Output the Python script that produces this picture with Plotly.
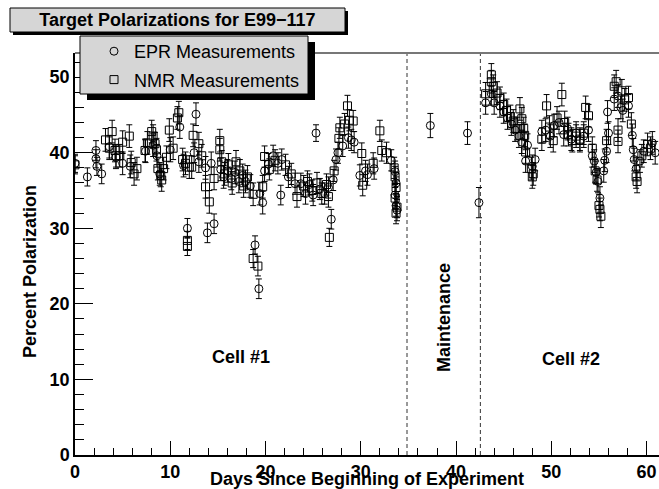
import plotly.graph_objects as go

# ---------------- data ----------------
EPR_DAY = [0.0, 1.3, 2.2, 2.2, 2.3, 2.8, 3.6, 4.3, 5.0, 5.8, 7.4, 8.2, 8.6, 8.9, 10.0, 11.0,
           11.4, 11.8, 12.5, 12.7, 13.0, 13.7, 13.9, 14.3, 14.6, 15.3, 15.6, 16.0, 16.4, 16.8,
           17.2, 17.6, 17.9, 18.4, 18.9, 19.3, 19.4, 19.7, 19.9, 20.3, 20.8, 21.3, 21.6, 21.7,
           22.4, 23.1, 23.7, 24.2, 24.6, 25.0, 25.3, 25.7, 26.2, 26.6, 26.9, 27.1, 27.4, 27.6,
           28.1, 28.7, 29.0, 29.3, 29.9, 30.5, 30.7, 31.4, 33.2, 33.6, 33.7, 33.6, 33.7, 33.8,
           37.3, 41.2, 42.4,
           43.1, 43.7, 44.0, 44.6, 45.0, 45.4, 45.8, 46.2, 46.6, 46.9, 47.3, 47.5, 48.0, 48.3,
           49.0, 49.4, 49.9, 50.3, 50.8, 51.3, 51.7, 52.1, 52.6, 53.0, 53.4, 53.9, 54.3, 54.5,
           54.7, 54.9, 55.1, 55.5, 55.6, 55.8, 55.9, 56.0, 56.6, 57.0, 57.3, 57.5, 58.1, 58.5,
           58.6, 58.7, 58.9, 59.3, 59.7, 60.6, 60.9]
EPR_POL = [38.6, 36.8, 40.3, 39.2, 38.2, 37.2, 40.8, 39.4, 38.6, 38.2, 40.2, 41.0, 39.6, 37.2, 40.4, 43.4,
           38.3, 30.0, 40.0, 45.1, 38.8, 38.0, 29.4, 38.6, 30.6, 37.8, 36.8, 37.6, 36.6, 37.4,
           36.2, 37.0, 36.2, 35.6, 27.8, 22.0, 34.6, 33.4, 37.6, 38.5, 39.6, 38.6, 34.4, 39.1,
           36.8, 35.9, 35.9, 34.6, 35.8, 34.4, 42.6, 35.2, 34.6, 35.4, 31.2, 36.4, 39.1, 40.0,
           40.9, 42.0, 41.7, 41.4, 37.0, 37.6, 37.1, 37.9, 39.0, 37.5, 36.0, 34.4, 33.0, 32.4,
           43.6, 42.6, 33.4,
           46.6, 47.8, 46.6, 46.2, 45.4, 44.6, 43.8, 43.0, 42.2, 41.4, 38.9, 41.0, 38.2, 39.1,
           42.8, 43.0, 42.2, 43.6, 44.0, 42.4, 43.2, 41.8, 42.6, 41.6, 42.2, 43.0, 39.6, 38.9,
           37.4, 36.2, 34.0, 37.6, 39.0, 40.2, 45.4, 42.6, 47.1, 47.5, 46.0, 45.6, 46.2, 42.3,
           40.4, 39.1, 37.9, 38.9, 40.2, 41.3, 40.0]
EPR_ERR = [1.2, 1.2, 1.3, 1.2, 1.2, 1.3, 1.5, 1.5, 1.5, 1.5, 1.5, 1.5, 1.5, 1.5, 1.6, 1.5,
           1.5, 1.3, 1.3, 1.5, 1.4, 1.5, 1.3, 1.5, 1.3, 1.5, 1.5, 1.5, 1.5, 1.5,
           1.5, 1.5, 1.5, 1.5, 1.2, 1.3, 1.5, 1.5, 1.4, 1.4, 1.4, 1.4, 1.3, 1.4,
           1.4, 1.4, 1.4, 1.4, 1.4, 1.4, 1.1, 1.4, 1.4, 1.4, 1.3, 1.4, 1.4, 1.4,
           1.4, 1.4, 1.4, 1.4, 1.4, 1.4, 1.4, 1.4, 1.4, 1.4, 1.4, 1.4, 1.4, 1.4,
           1.6, 1.5, 2.0,
           1.5, 1.5, 1.5, 1.5, 1.5, 1.5, 1.5, 1.5, 1.5, 1.5, 1.5, 1.5, 1.5, 1.5,
           1.5, 1.5, 1.5, 1.5, 1.5, 1.5, 1.5, 1.5, 1.5, 1.5, 1.5, 1.5, 1.5, 1.5,
           1.5, 1.5, 1.5, 1.5, 1.5, 1.5, 1.5, 1.5, 1.5, 1.5, 1.5, 1.5, 1.5, 1.5,
           1.5, 1.5, 1.5, 1.5, 1.5, 1.5, 1.5]

NMR_DAY = [0.0, 3.2, 3.6, 3.9, 4.2, 4.3, 4.7, 5.0, 5.7, 5.9, 6.2, 6.5, 7.35, 7.6, 8.05, 8.2,
           8.4, 8.55, 8.7, 9.0, 9.1, 9.3, 9.6, 9.9, 10.3, 10.75, 10.9, 11.3, 11.6, 12.0, 11.8, 11.8,
           12.25, 12.4, 13.0, 13.3, 13.7, 14.1, 14.6, 15.2, 15.2, 15.4, 15.7, 16.1, 16.5, 16.9,
           17.3, 17.7, 18.1, 18.7, 18.7, 19.2, 19.7, 19.9, 20.4, 21.0, 22.1, 22.7, 23.3, 24.0,
           24.4, 24.9, 25.4, 25.9, 26.4, 26.6, 26.7, 27.2, 27.7, 27.8, 28.3, 28.6, 28.8, 29.2,
           30.1, 30.2, 31.3, 32.0, 32.2, 32.7, 33.5, 33.6, 33.7, 33.6, 33.8, 33.7,
           43.1, 43.7, 43.7, 43.9, 44.3, 44.6, 45.0, 45.3, 45.7, 46.0, 46.4, 46.7, 46.9, 47.1,
           47.2, 47.3, 47.9, 48.1, 48.0, 49.0, 49.5, 49.8, 50.2, 50.6, 51.1, 51.4, 51.8, 52.2,
           52.6, 53.0, 53.4, 53.6, 53.9, 54.3, 54.6, 54.8, 55.1, 55.2, 55.0, 55.8, 56.6, 56.8,
           57.0, 57.0, 57.4, 57.7, 58.1, 58.4, 58.9, 59.0, 59.5, 60.1, 60.4]
NMR_POL = [38.4, 41.7, 40.6, 42.8, 40.3, 39.6, 39.6, 41.4, 42.2, 38.7, 37.2, 37.9, 40.3, 41.3, 42.8, 42.2,
           41.2, 40.4, 37.9, 37.0, 36.4, 37.9, 39.4, 43.0, 40.6, 44.6, 45.3, 39.1, 38.6, 38.1, 28.4, 27.6,
           38.1, 42.3, 41.2, 39.6, 35.5, 33.5, 36.6, 41.6, 40.4, 38.8, 37.2, 38.4, 36.0, 38.8,
           37.6, 35.6, 36.8, 34.5, 26.0, 25.0, 35.5, 39.5, 37.8, 39.0, 38.4, 37.2, 34.2, 35.6,
           36.2, 35.0, 36.0, 34.6, 35.8, 34.2, 28.8, 37.6, 41.9, 43.3, 43.8, 46.2, 44.3, 44.2,
           39.9, 35.7, 38.6, 42.9, 40.3, 40.0, 38.0, 36.8, 35.4, 34.0, 32.8, 32.0,
           47.8, 50.3, 49.4, 48.8, 47.9, 47.2, 46.4, 45.6, 44.8, 44.2, 43.2, 45.8, 44.5, 43.2,
           42.3, 40.1, 37.9, 37.2, 36.8, 41.8, 46.2, 43.4, 41.6, 44.6, 47.7, 44.0, 42.4, 41.6,
           42.2, 41.8, 42.6, 46.0, 44.9, 40.6, 37.6, 36.4, 32.5, 31.6, 33.0, 41.6, 48.8, 49.4,
           43.0, 41.5, 48.2, 47.0, 47.3, 43.8, 36.8, 36.2, 39.6, 41.1, 40.6]
NMR_ERR = [1.2, 1.5, 1.5, 1.5, 1.5, 1.5, 1.5, 1.5, 1.5, 1.5, 1.5, 1.5, 1.5, 1.5, 1.5, 1.5,
           1.5, 1.5, 1.5, 1.5, 1.5, 1.5, 1.5, 1.5, 1.5, 1.5, 1.5, 1.5, 1.5, 1.5, 1.2, 1.2,
           1.5, 1.5, 1.5, 1.5, 1.5, 1.5, 1.5, 1.5, 1.5, 1.5, 1.5, 1.5, 1.5, 1.5,
           1.5, 1.5, 1.5, 1.5, 1.2, 1.3, 1.5, 1.4, 1.4, 1.4, 1.4, 1.4, 1.4, 1.4,
           1.4, 1.4, 1.4, 1.4, 1.4, 1.4, 1.2, 1.4, 1.4, 1.4, 1.4, 1.4, 1.4, 1.4,
           1.4, 1.4, 1.4, 1.4, 1.4, 1.4, 1.4, 1.4, 1.4, 1.4, 1.4, 1.4,
           1.5, 1.5, 1.5, 1.5, 1.5, 1.5, 1.5, 1.5, 1.5, 1.5, 1.5, 1.5, 1.5, 1.5,
           1.5, 1.5, 1.5, 1.5, 1.5, 1.5, 1.5, 1.5, 1.5, 1.5, 1.5, 1.5, 1.5, 1.5,
           1.5, 1.5, 1.5, 1.5, 1.5, 1.5, 1.5, 1.5, 1.5, 1.5, 1.5, 1.5, 1.5, 1.5,
           1.5, 1.5, 1.5, 1.5, 1.5, 1.5, 1.5, 1.5, 1.5, 1.5, 1.5]

PERIOD_BOUNDARIES = [34.85, 42.55]
REGION_LABELS = ["Cell #1", "Maintenance", "Cell #2"]
REGION_X = [17.4, 38.8, 52.1]
REGION_Y = [13.0, 18.2, 12.7]
X_TICKS = [0, 10, 20, 30, 40, 50, 60]
Y_TICKS = [0, 10, 20, 30, 40, 50]

TITLE = "Target Polarizations for E99\u2212117"
X_TITLE = "Days Since Beginning of Experiment"
Y_TITLE = "Percent Polarization"

# ---------------- layout geometry ----------------
W, H = 659, 489
ML, MR, MT, MB = 75, 0, 53, 34
PW, PH = W - ML - MR, H - MT - MB
FONT = "Liberation Sans, Arial, Helvetica, sans-serif"
BOX_GRAY = "#d6d6d6"


def fx(px):  # pixel -> paper x
    return (px - ML) / PW


def fy(py):  # pixel -> paper y
    return (H - MB - py) / PH


fig = go.Figure()

fig.add_trace(go.Scatter(
    x=EPR_DAY, y=EPR_POL, mode="markers", name="EPR Measurements", legendgroup="a",
    marker=dict(symbol="circle-open", size=8, color="black", line=dict(width=1, color="black")),
    error_y=dict(type="data", array=EPR_ERR, color="black", thickness=1, width=3),
))
fig.add_trace(go.Scatter(
    x=NMR_DAY, y=NMR_POL, mode="markers", name="NMR Measurements", legendgroup="b",
    marker=dict(symbol="square-open", size=8, color="black", line=dict(width=1, color="black")),
    error_y=dict(type="data", array=NMR_ERR, color="black", thickness=1, width=3),
))

shapes = []
# period boundaries
for xb in PERIOD_BOUNDARIES:
    shapes.append(dict(type="line", xref="x", yref="paper", x0=xb, x1=xb, y0=0, y1=1,
                       line=dict(color="#333333", width=1, dash="4px,3px"), layer="below"))
# top frame line
shapes.append(dict(type="line", xref="paper", yref="paper", x0=0, x1=1, y0=1, y1=1,
                   line=dict(color="#777777", width=2), layer="below"))
# title box + shadow
shapes.append(dict(type="rect", xref="paper", yref="paper", x0=fx(13), x1=fx(348), y0=fy(35), y1=fy(11),
                   fillcolor="black", line=dict(width=0), layer="above"))
shapes.append(dict(type="rect", xref="paper", yref="paper", x0=fx(10), x1=fx(345), y0=fy(32), y1=fy(8),
                   fillcolor=BOX_GRAY, line=dict(width=1, color="black"), layer="above"))
# legend box + shadow
shapes.append(dict(type="rect", xref="paper", yref="paper", x0=fx(87), x1=fx(315), y0=fy(100), y1=fy(42),
                   fillcolor="black", line=dict(width=0), layer="above"))
shapes.append(dict(type="rect", xref="paper", yref="paper", x0=fx(80), x1=fx(308), y0=fy(94), y1=fy(36),
                   fillcolor=BOX_GRAY, line=dict(width=1, color="black"), layer="above"))

annotations = []
for lab, xv, yv in zip(REGION_LABELS, REGION_X, REGION_Y):
    annotations.append(dict(text=lab, x=xv, y=yv, xref="x", yref="y", showarrow=False,
                            textangle=-90 if lab == "Maintenance" else 0,
                            font=dict(family=FONT, size=18, color="black", weight="bold")))
annotations.append(dict(text=X_TITLE, x=0.5, y=fy(479), xref="paper", yref="paper", showarrow=False,
                        xanchor="center", yanchor="middle",
                        font=dict(family=FONT, size=18, color="black", weight="bold")))
annotations.append(dict(text=Y_TITLE, x=fx(30), y=fy(272), xref="paper", yref="paper", showarrow=False,
                        xanchor="center", yanchor="middle", textangle=-90,
                        font=dict(family=FONT, size=18, color="black", weight="bold")))

axis_common = dict(showgrid=False, zeroline=False, showline=True, linecolor="black", linewidth=1.5,
                   ticks="inside", tickcolor="black", tickwidth=1, automargin=False,
                   tickfont=dict(family=FONT, size=18, color="black", weight="bold"),
                   fixedrange=True)

fig.update_layout(
    width=W, height=H,
    margin=dict(l=ML, r=MR, t=MT, b=MB, pad=0, autoexpand=False),
    paper_bgcolor="white", plot_bgcolor="white",
    template="none",
    title=dict(text=TITLE, x=177.5 / W, xref="container", xanchor="center",
               y=1 - 20 / H, yref="container", yanchor="middle",
               font=dict(family=FONT, size=18, color="black", weight="bold")),
    xaxis=dict(range=[0, 61.3], tickvals=X_TICKS, ticklen=14,
               minor=dict(dtick=2, ticks="inside", ticklen=7, tickcolor="black", tickwidth=1),
               **axis_common),
    yaxis=dict(range=[0, 53.2], tickvals=Y_TICKS, ticklen=18,
               minor=dict(dtick=2, ticks="inside", ticklen=9, tickcolor="black", tickwidth=1),
               **axis_common),
    showlegend=True,
    legend=dict(x=fx(94), y=fy(33), xanchor="left", yanchor="top", bgcolor="rgba(0,0,0,0)",
                borderwidth=0, tracegroupgap=2,
                font=dict(family=FONT, size=18, color="black")),
    shapes=shapes,
    annotations=annotations,
)

fig.write_html("out.html", config={"displayModeBar": False},
               post_script="document.body.style.margin='0';document.body.style.padding='0';")
